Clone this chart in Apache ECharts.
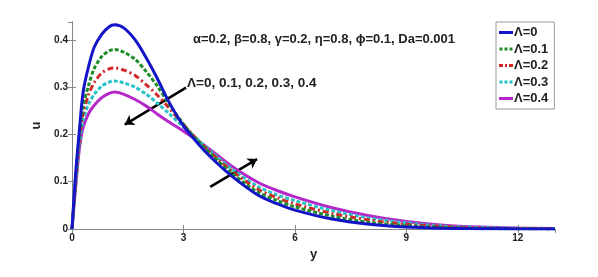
<!DOCTYPE html>
<html>
<head>
<meta charset="utf-8">
<script src="https://cdn.jsdelivr.net/npm/echarts@6/dist/echarts.min.js"></script>
<style>html,body{margin:0;padding:0;background:#fff}#c{width:598px;height:277px}</style>
</head>
<body>
<div id="c"></div>
<script>
const yGrid = [0, 0.1, 0.2, 0.3, 0.45, 0.6, 0.8, 1.0, 1.15, 1.4, 1.7, 2.0, 2.3, 2.6, 3.0, 3.4, 3.8, 4.3, 5.0, 5.5, 6.0, 7, 8, 9, 10, 11, 12, 13];
const u0  = [0, 0.12, 0.21, 0.29, 0.345, 0.385, 0.412, 0.428, 0.432, 0.425, 0.400, 0.362, 0.318, 0.270, 0.218, 0.180, 0.147, 0.112, 0.072, 0.054, 0.040, 0.021, 0.010, 0.004, 0.0015, 0.0006, 0.0002, 0];
const u01 = [0, 0.11, 0.20, 0.26, 0.305, 0.340, 0.365, 0.377, 0.380, 0.374, 0.359, 0.333, 0.302, 0.266, 0.222, 0.185, 0.154, 0.118, 0.078, 0.061, 0.047, 0.027, 0.014, 0.007, 0.003, 0.0012, 0.0005, 0.0002];
const u02 = [0, 0.10, 0.19, 0.245, 0.285, 0.310, 0.330, 0.339, 0.341, 0.336, 0.325, 0.305, 0.283, 0.257, 0.221, 0.187, 0.157, 0.123, 0.084, 0.067, 0.053, 0.033, 0.019, 0.010, 0.005, 0.002, 0.001, 0.0004];
const u03 = [0, 0.095, 0.18, 0.23, 0.265, 0.285, 0.302, 0.311, 0.313, 0.309, 0.300, 0.285, 0.266, 0.245, 0.216, 0.188, 0.160, 0.127, 0.090, 0.073, 0.060, 0.039, 0.023, 0.013, 0.006, 0.003, 0.0015, 0.0006];
const u04 = [0, 0.09, 0.17, 0.215, 0.245, 0.262, 0.278, 0.287, 0.290, 0.285, 0.274, 0.260, 0.243, 0.227, 0.207, 0.186, 0.163, 0.133, 0.099, 0.082, 0.068, 0.045, 0.028, 0.016, 0.008, 0.004, 0.002, 0.001];
const seriesNames = ['Λ=0', 'Λ=0.1', 'Λ=0.2', 'Λ=0.3', 'Λ=0.4'];
const xTicks = [0, 3, 6, 9, 12];
const yTicks = [0, 0.1, 0.2, 0.3, 0.4];
const arrow1 = [[3.07, 0.299], [1.42, 0.221]];
const arrow2 = [[3.72, 0.089], [4.98, 0.148]];
const paramText = 'α=0.2, β=0.8, γ=0.2, η=0.8, ϕ=0.1, Da=0.001';
const lambdaText = 'Λ=0, 0.1, 0.2, 0.3, 0.4';

const allU = [u0, u01, u02, u03, u04];
const colors = ['#1414c8', '#1e8c28', '#d22828', '#28c3c8', '#b428c8'];
const dashes = ['solid', [4, 2], [6, 3, 2, 3], [4, 2], 'solid'];
const legendIcons = [
  'path://M0,0h14v3h-14z',
  'path://M0,0h3v3h-3z M5,0h3v3h-3z M10,0h3v3h-3z',
  'path://M0,0h4v3h-4z M6,0h2v3h-2z M10,0h4v3h-4z',
  'path://M0,0h3v3h-3z M5,0h3v3h-3z M10,0h3v3h-3z',
  'path://M0,0h14v3h-14z'
];
const FONT = 'Arial, "Liberation Sans", sans-serif';

const series = allU.map((arr, i) => ({
  name: seriesNames[i],
  type: 'line',
  smooth: 0.3,
  symbol: 'none',
  z: 10 - i,
  data: yGrid.map((x, k) => [x, arr[k]]),
  lineStyle: { color: colors[i], width: 3, type: dashes[i] },
  itemStyle: { color: colors[i] }
}));
series.push({
  type: 'line', data: [], silent: true,
  markLine: {
    silent: true, symbol: ['none', 'arrow'], symbolSize: [9, 9],
    label: { show: false },
    lineStyle: { color: '#000', width: 2.5, type: 'solid' },
    data: [
      [{ coord: arrow1[0] }, { coord: arrow1[1] }],
      [{ coord: arrow2[0] }, { coord: arrow2[1] }]
    ]
  }
});

const chart = echarts.init(document.getElementById('c'));
chart.setOption({
  animation: false,
  backgroundColor: '#fff',
  grid: { left: 72, right: 43, top: 22, bottom: 48 },
  xAxis: [{
    type: 'value', min: 0, max: 13, interval: 3,
    name: 'y', nameLocation: 'middle', nameGap: 14,
    nameTextStyle: { fontFamily: FONT, fontWeight: 'bold', fontSize: 13, color: '#222' },
    axisLine: { lineStyle: { color: '#888', width: 1 } },
    axisTick: { inside: true, length: 4, lineStyle: { color: '#888' } },
    axisLabel: { showMaxLabel: false, margin: 4, fontFamily: FONT, fontWeight: 'bold', fontSize: 10, color: '#222',
      formatter: v => xTicks.includes(v) ? String(v) : '' },
    splitLine: { show: false }
  }, {
    type: 'value', position: 'top', min: 0, max: 13, interval: 3,
    axisLine: { show: true, lineStyle: { color: '#888', width: 1 } },
    axisTick: { inside: true, length: 4, lineStyle: { color: '#888' } },
    axisLabel: { show: false }, splitLine: { show: false }
  }],
  yAxis: [{
    type: 'value', min: 0, max: 0.438, interval: 0.1,
    name: 'u', nameLocation: 'middle', nameGap: 15, nameRotate: 90,
    nameTextStyle: { fontFamily: FONT, fontWeight: 'bold', fontSize: 13, color: '#222' },
    axisLine: { show: true, lineStyle: { color: '#888', width: 1 } },
    axisTick: { show: true, inside: true, length: 4, lineStyle: { color: '#888' } },
    axisLabel: { showMaxLabel: false, margin: 4, fontFamily: FONT, fontWeight: 'bold', fontSize: 10, color: '#222',
      formatter: v => { const t = yTicks.find(y => Math.abs(y - v) < 1e-6); return t === undefined ? '' : String(t); } },
    splitLine: { show: false }
  }, {
    type: 'value', position: 'right', min: 0, max: 0.438, interval: 0.1,
    axisLine: { show: true, lineStyle: { color: '#888', width: 1 } },
    axisTick: { show: true, inside: true, length: 4, lineStyle: { color: '#888' } },
    axisLabel: { show: false }, splitLine: { show: false }
  }],
  legend: {
    orient: 'vertical', left: 496, top: 22,
    backgroundColor: '#fff', borderColor: '#999', borderWidth: 1,
    padding: [4, 6, 4, 3], itemGap: 3.5, itemWidth: 14, itemHeight: 3,
    textStyle: { fontFamily: FONT, fontWeight: 'bold', fontSize: 13, lineHeight: 13, color: '#222', padding: [0, 0, 0, -4] },
    data: seriesNames.map((n, i) => ({ name: n, icon: legendIcons[i], itemStyle: { color: colors[i] } }))
  },
  graphic: [
    { type: 'text', left: 193, top: 33, style: {
      text: paramText, fill: '#222', font: 'bold 13px Arial, "Liberation Sans", sans-serif' } },
    { type: 'text', left: 187, top: 76, style: {
      text: lambdaText, fill: '#222', font: 'bold 13.5px Arial, "Liberation Sans", sans-serif' } }
  ],
  series: series
});
</script>
</body>
</html>
